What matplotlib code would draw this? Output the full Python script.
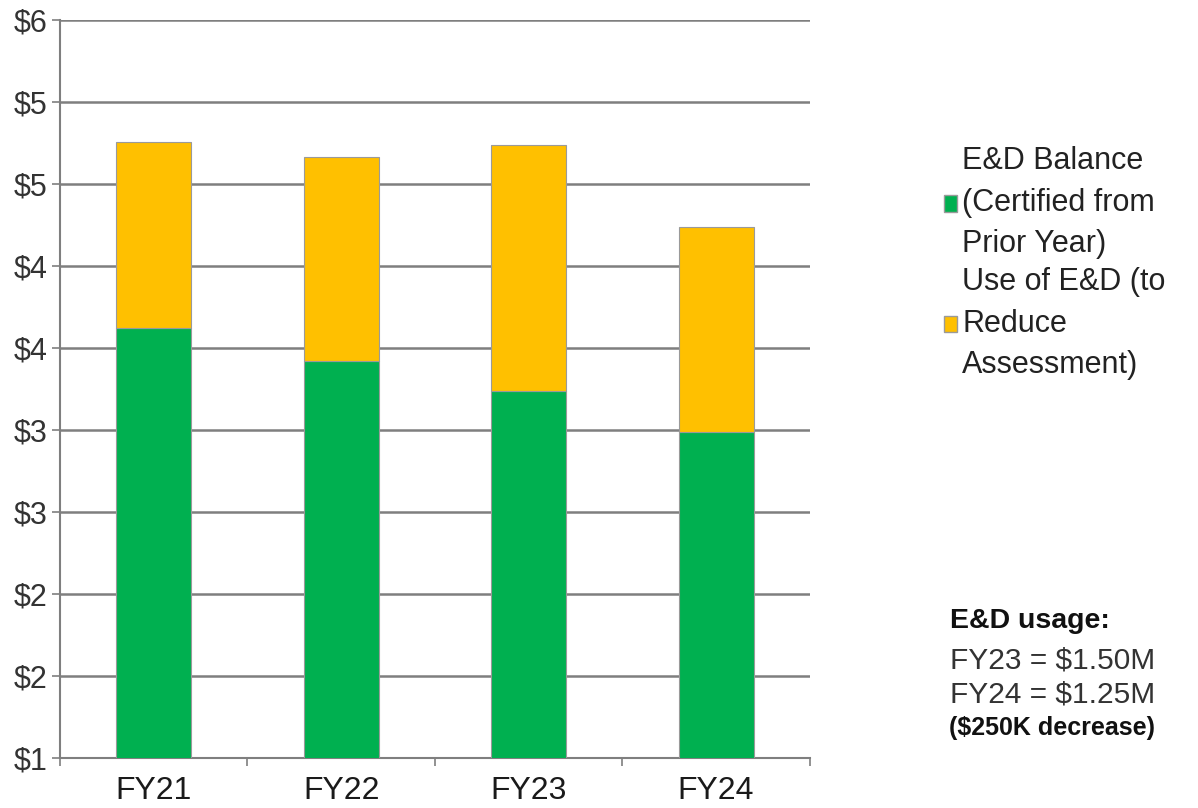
import numpy as np
import matplotlib.pyplot as plt
from matplotlib.patches import Patch

plt.rcParams['font.family'] = ['Liberation Sans', 'DejaVu Sans']

years = ['FY21', 'FY22', 'FY23', 'FY24']
balance = [3.87, 3.67, 3.49, 3.24]
usage = [1.14, 1.245, 1.50, 1.25]
ytick_vals = [1.25, 1.75, 2.25, 2.75, 3.25, 3.75, 4.25, 4.75, 5.25, 5.75]
ytick_labels = ['$1', '$2', '$2', '$3', '$3', '$4', '$4', '$5', '$5', '$6']

green = '#00B050'
gold = '#FFC000'
grid_c = '#7f7f7f'

fig = plt.figure(figsize=(11.98, 8.08), dpi=100)
ax = fig.add_axes([0.050, 0.062, 0.626, 0.913])

x = np.arange(len(years))
ax.bar(x, balance, width=0.4, color=green, edgecolor='#9a9a9a', linewidth=0.8, zorder=3)
ax.bar(x, usage, bottom=balance, width=0.4, color=gold, edgecolor='#9a9a9a', linewidth=0.8, zorder=3)

ax.set_xlim(-0.5, len(years) - 0.5)
ax.set_ylim(1.25, 5.75)
ax.set_yticks(ytick_vals)
ax.set_yticklabels(ytick_labels)
ax.set_xticks(x)
ax.set_xticklabels(years)
ax.set_xticks(np.arange(-0.5, len(years)), minor=True)
ax.tick_params(axis='x', which='major', length=0, labelsize=23, pad=13, colors='#1a1a1a')
ax.tick_params(axis='x', which='minor', length=6, width=1.2, color=grid_c)
ax.tick_params(axis='y', length=6, width=1.2, color=grid_c, labelsize=22, pad=3, labelcolor='#333333')

ax.yaxis.grid(True, color=grid_c, linewidth=1.8, zorder=0)
ax.set_axisbelow(True)
for s in ['top', 'right']:
    ax.spines[s].set_visible(False)
for s in ['left', 'bottom']:
    ax.spines[s].set_color(grid_c)
    ax.spines[s].set_linewidth(1.5)

handles = [Patch(facecolor=green, edgecolor='#9a9a9a'),
           Patch(facecolor=gold, edgecolor='#9a9a9a')]
labels = ['E&D Balance\n(Certified from\nPrior Year)',
          'Use of E&D (to\nReduce\nAssessment)']
leg = fig.legend(handles, labels, loc='upper left', bbox_to_anchor=(0.775, 0.838),
                 frameon=False, fontsize=22, handlelength=0.45, handleheight=0.45,
                 handletextpad=0.15, labelspacing=0.26, borderpad=0, labelcolor='#222222')
for t in leg.get_texts():
    t.set_linespacing(1.5)

fig.text(0.793, 0.231, 'E&D usage:', fontsize=20.5, fontweight='bold', color='#111111', va='center')
fig.text(0.793, 0.183, 'FY23 = $1.50M', fontsize=21.5, color='#333333', va='center')
fig.text(0.793, 0.140, 'FY24 = $1.25M', fontsize=21.5, color='#333333', va='center')
fig.text(0.792, 0.099, '($250K decrease)', fontsize=18, fontweight='bold', color='#111111', va='center')

fig.savefig('out.png', dpi=100)
